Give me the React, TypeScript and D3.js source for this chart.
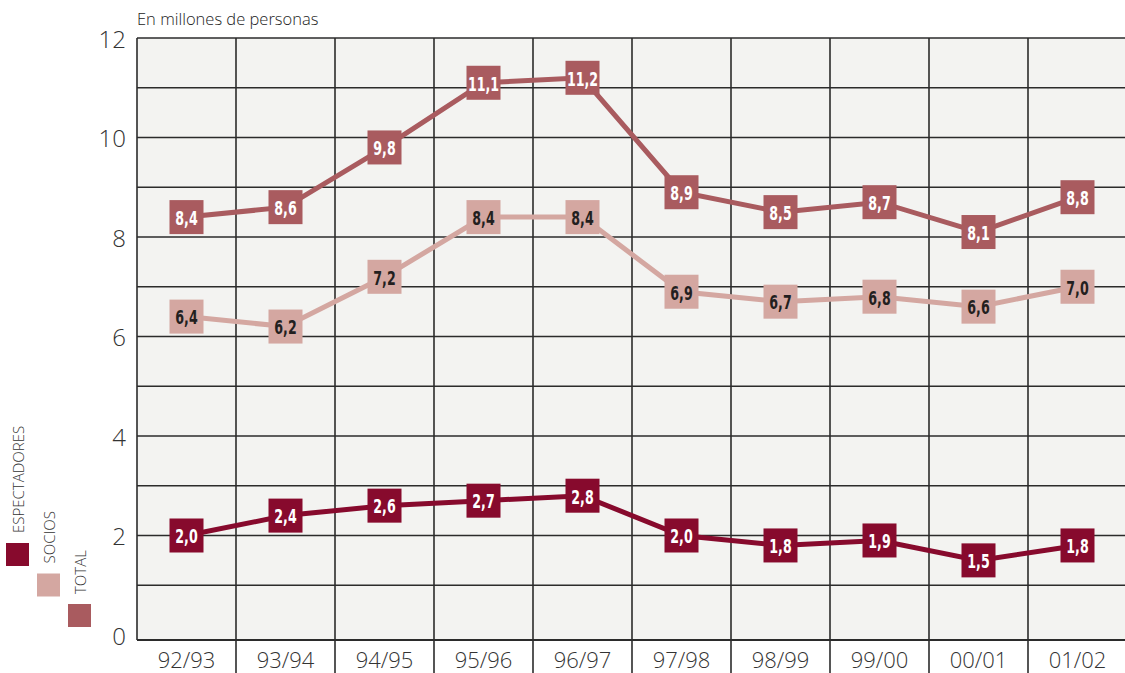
import React from "react";
import * as d3 from "d3";

const CATEGORIES = ["92/93", "93/94", "94/95", "95/96", "96/97", "97/98", "98/99", "99/00", "00/01", "01/02"];
const ESPECTADORES = [2.0, 2.4, 2.6, 2.7, 2.8, 2.0, 1.8, 1.9, 1.5, 1.8];
const SOCIOS = [6.4, 6.2, 7.2, 8.4, 8.4, 6.9, 6.7, 6.8, 6.6, 7.0];
const TOTAL = [8.4, 8.6, 9.8, 11.1, 11.2, 8.9, 8.5, 8.7, 8.1, 8.8];
const Y_TICKS = [0, 2, 4, 6, 8, 10, 12];

const SERIES = [
  { name: "ESPECTADORES", values: ESPECTADORES, color: "#870a2d", text: "#ffffff" },
  { name: "SOCIOS", values: SOCIOS, color: "#d4a7a1", text: "#231f20" },
  { name: "TOTAL", values: TOTAL, color: "#a95b5f", text: "#ffffff" },
];

const W = 1125;
const H = 673;
const PLOT_LEFT = 137;
const PLOT_TOP = 38;
const PLOT_BOTTOM = 640;
const BAND = 99;
const AXIS_FONT = "'Open Sans', 'DejaVu Sans', sans-serif";
const LABEL_FONT = "'DejaVu Sans Condensed', 'DejaVu Sans', sans-serif";
const fmt = (v: number) => v.toFixed(1).replace(".", ",");

export default function App() {
  const x = d3
    .scaleBand<string>()
    .domain(CATEGORIES)
    .range([PLOT_LEFT, PLOT_LEFT + BAND * CATEGORIES.length]);
  const y = d3.scaleLinear().domain([0, 12]).range([635, PLOT_TOP]);
  const line = d3
    .line<number>()
    .x((_, i) => (x(CATEGORIES[i]) as number) + x.bandwidth() / 2)
    .y((d) => y(d));

  const plotRight = PLOT_LEFT + BAND * CATEGORIES.length;
  const gridVals = d3.range(1, 13);
  const markerSize = 34;

  return (
    <svg
      width={W}
      height={H}
      style={{ position: "absolute", left: 0, top: 0, background: "#ffffff" }}
    >
      <rect
        x={PLOT_LEFT}
        y={PLOT_TOP}
        width={plotRight - PLOT_LEFT}
        height={PLOT_BOTTOM - PLOT_TOP}
        fill="#f3f3f1"
      />
      {gridVals.map((v) => (
        <line
          key={"h" + v}
          x1={PLOT_LEFT}
          x2={plotRight}
          y1={y(v)}
          y2={y(v)}
          stroke="#2b2b2b"
          strokeWidth={1.6}
        />
      ))}
      {CATEGORIES.map((c, i) => (
        <line
          key={"v" + c}
          x1={x(c) as number}
          x2={x(c) as number}
          y1={PLOT_TOP}
          y2={i === 0 ? PLOT_BOTTOM : H}
          stroke="#2b2b2b"
          strokeWidth={1.6}
        />
      ))}
      <line
        x1={PLOT_LEFT}
        x2={plotRight}
        y1={PLOT_BOTTOM}
        y2={PLOT_BOTTOM}
        stroke="#2b2b2b"
        strokeWidth={1.8}
      />

      {Y_TICKS.map((t) => (
        <text
          key={"yt" + t}
          x={126}
          y={y(t)}
          textAnchor="end"
          dominantBaseline="central"
          fontFamily={AXIS_FONT}
          fontWeight={300}
          fontSize={24}
          fill="#333333"
        >
          {t}
        </text>
      ))}
      {CATEGORIES.map((c) => (
        <text
          key={"xt" + c}
          x={(x(c) as number) + x.bandwidth() / 2}
          y={659}
          textAnchor="middle"
          dominantBaseline="central"
          fontFamily={AXIS_FONT}
          fontWeight={300}
          fontSize={22}
          fill="#333333"
        >
          {c}
        </text>
      ))}
      <text x={137} y={25} fontFamily={AXIS_FONT} fontWeight={300} fontSize={16.5} fill="#222222">
        En millones de personas
      </text>

      {SERIES.map((s) => (
        <path
          key={"l" + s.name}
          d={line(s.values) || ""}
          fill="none"
          stroke={s.color}
          strokeWidth={5}
        />
      ))}
      {SERIES.map((s) =>
        s.values.map((v, i) => {
          const cx = (x(CATEGORIES[i]) as number) + x.bandwidth() / 2;
          const cy = y(v);
          return (
            <g key={s.name + i}>
              <rect
                x={cx - markerSize / 2}
                y={cy - markerSize / 2}
                width={markerSize}
                height={markerSize}
                fill={s.color}
              />
              <text
                transform={`translate(${cx},${cy + 1}) scale(0.74,1)`}
                textAnchor="middle"
                dominantBaseline="central"
                fontFamily={LABEL_FONT}
                fontWeight="bold"
                fontSize={19}
                fill={s.text}
              >
                {fmt(v)}
              </text>
            </g>
          );
        })
      )}

      {SERIES.map((s, i) => {
        const sx = 6 + i * 31;
        const sy = 543 + i * 30.5;
        return (
          <g key={"lg" + s.name}>
            <rect x={sx} y={sy} width={23} height={23} fill={s.color} />
            <text
              transform={`translate(${sx + 11.5},${sy - 10}) rotate(-90)`}
              textAnchor="start"
              dominantBaseline="central"
              fontFamily={AXIS_FONT}
              fontWeight={300}
              fontSize={15}
              fill="#333333"
            >
              {s.name}
            </text>
          </g>
        );
      })}
    </svg>
  );
}
